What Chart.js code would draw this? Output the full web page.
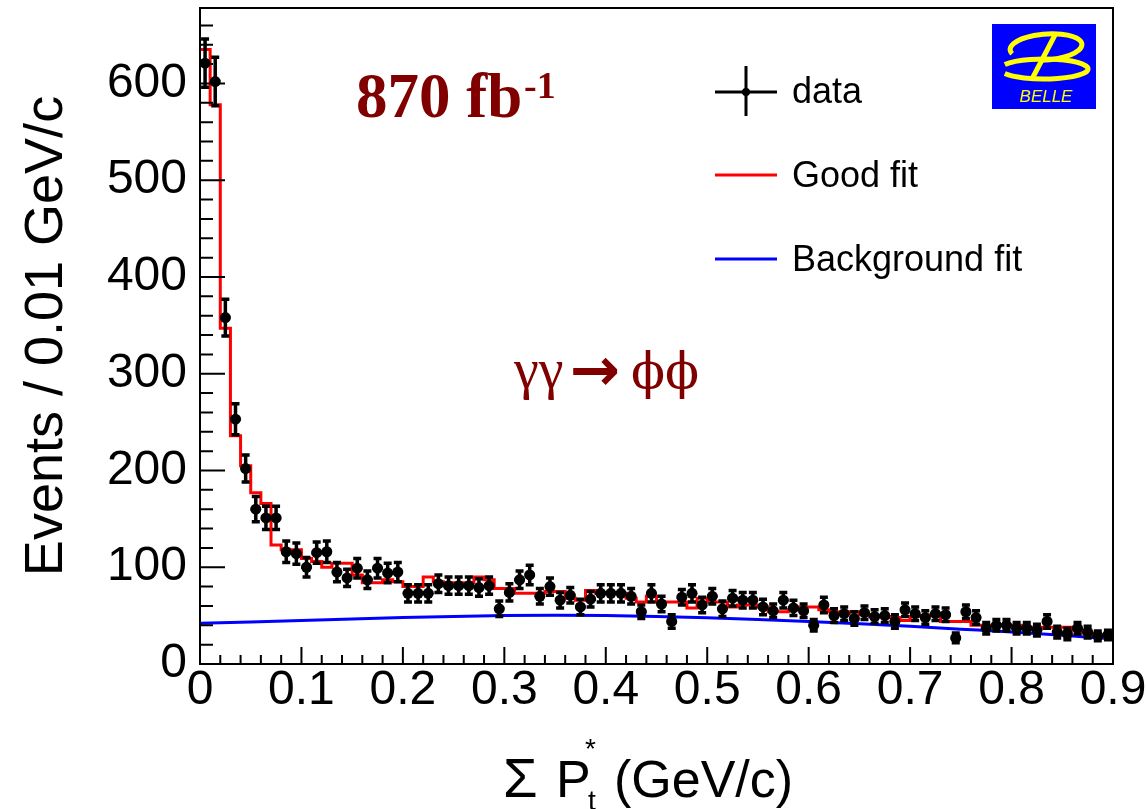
<!DOCTYPE html>
<html>
<head>
<meta charset="utf-8">
<script src="https://cdn.jsdelivr.net/npm/chart.js@4.4.1/dist/chart.umd.min.js"></script>
<style>
  html, body { margin: 0; padding: 0; background: #fff; }
  #wrap { width: 1146px; height: 809px; }
</style>
</head>
<body>
<div id="wrap"><canvas id="pt-spectrum" width="1146" height="809"></canvas></div>
<script>
// histogram bin width, GeV/c
var binWidth = 0.01;

// events per bin, bins 0.00-0.01 ... 0.89-0.90
var counts = [621, 602, 358, 253, 202, 160, 151, 151, 116, 114,
              100, 115, 116, 95, 89, 99, 87, 99, 94, 95,
              73, 73, 73, 83, 81, 81, 81, 79, 81, 57,
              74, 87, 92, 70, 80, 66, 71, 59, 67, 73,
              73, 73, 70, 54, 73, 62, 44, 69, 73, 61,
              70, 57, 68, 66, 66, 59, 55, 66, 58, 55,
              40, 61, 50, 52, 47, 53, 49, 50, 44, 56,
              52, 48, 52, 51, 27, 54, 48, 37, 40, 40,
              37, 37, 35, 44, 33, 31, 37, 33, 29, 30];

// error bar half-lengths
var countErrors = [25, 25, 19, 16, 14, 13, 12, 12, 11, 11,
                   10, 11, 11, 10, 9, 10, 9, 10, 10, 10,
                   9, 9, 9, 9, 9, 9, 9, 9, 9, 8,
                   9, 9, 10, 8, 9, 8, 8, 8, 8, 9,
                   9, 9, 8, 7, 9, 8, 7, 8, 9, 8,
                   8, 8, 8, 8, 8, 8, 7, 8, 8, 7,
                   6, 8, 7, 7, 7, 7, 7, 7, 7, 7,
                   7, 7, 7, 7, 5, 7, 7, 6, 6, 6,
                   6, 6, 6, 7, 6, 6, 6, 6, 5, 5];

// "Good fit" histogram, one value per bin
var goodFit = [635, 578, 347, 236, 205, 177, 166, 123, 118, 118,
               109, 106, 100, 104, 104, 92, 84, 84, 87, 85,
               80, 80, 90, 85, 84, 84, 84, 90, 87, 78,
               78, 73, 73, 73, 75, 75, 68, 66, 76, 73,
               73, 73, 68, 64, 70, 64, 64, 64, 58, 68,
               64, 64, 59, 61, 61, 59, 54, 54, 56, 59,
               59, 56, 54, 52, 54, 51, 49, 49, 48, 45,
               49, 50, 51, 44, 44, 44, 40, 40, 40, 40,
               40, 38, 37, 38, 38, 38, 35, 32, 30, 28];

// background fit curve
var bkgX = [0, 0.05, 0.1, 0.15, 0.2, 0.25, 0.3, 0.35, 0.4, 0.45,
            0.5, 0.55, 0.6, 0.65, 0.7, 0.75, 0.8, 0.85, 0.9];
var bkgY = [42, 43.5, 45, 46.5, 48, 49.2, 50, 50.3, 50, 49.2,
            47.8, 46, 44, 41.6, 39, 36, 33, 29.6, 26];

// tick labels
var xTicks = [0, 0.1, 0.2, 0.3, 0.4, 0.5, 0.6, 0.7, 0.8, 0.9];
var yTicks = [0, 100, 200, 300, 400, 500, 600];

var darkRed = '#800000';

// ROOT style frame with inward ticks
var frameTicks = {
  id: 'frameTicks',
  afterDraw: function (chart) {
    var ctx = chart.ctx, a = chart.chartArea;
    var xs = chart.scales.x, ys = chart.scales.y;
    ctx.save();
    ctx.strokeStyle = '#000';
    ctx.lineWidth = 2;
    ctx.strokeRect(a.left, a.top, a.right - a.left, a.bottom - a.top);
    ctx.beginPath();
    for (var k = 0; k <= 45; k++) {
      var px = xs.getPixelForValue(k * 0.02);
      var len = k % 5 === 0 ? 17 : 9;
      ctx.moveTo(px, a.bottom);
      ctx.lineTo(px, a.bottom - len);
    }
    for (var j = 0; j <= 33; j++) {
      var py = ys.getPixelForValue(j * 20);
      var l2 = j % 5 === 0 ? 25 : 13;
      ctx.moveTo(a.left, py);
      ctx.lineTo(a.left + l2, py);
    }
    ctx.stroke();
    ctx.restore();
  }
};

var errorBars = {
  id: 'errorBars',
  afterDatasetsDraw: function (chart) {
    var ctx = chart.ctx, xs = chart.scales.x, ys = chart.scales.y;
    ctx.save();
    ctx.strokeStyle = '#000';
    ctx.lineWidth = 3.5;
    ctx.beginPath();
    counts.forEach(function (n, i) {
      var xc = (i + 0.5) * binWidth;
      var px = xs.getPixelForValue(xc);
      var pl = xs.getPixelForValue(i * binWidth);
      var pr = xs.getPixelForValue((i + 1) * binWidth);
      var py = ys.getPixelForValue(n);
      var pt = ys.getPixelForValue(n + countErrors[i]);
      var pb = ys.getPixelForValue(n - countErrors[i]);
      ctx.moveTo(px, pt); ctx.lineTo(px, pb);
      ctx.moveTo(px - 4, pt); ctx.lineTo(px + 4, pt);
      ctx.moveTo(px - 4, pb); ctx.lineTo(px + 4, pb);
      ctx.moveTo(pl, py); ctx.lineTo(pr, py);
    });
    ctx.stroke();
    ctx.restore();
  }
};

// legend, labels, logo and x title
var decorations = {
  id: 'decorations',
  afterDraw: function (chart) {
    var ctx = chart.ctx;
    ctx.save();

    // legend
    ctx.lineWidth = 3;
    ctx.strokeStyle = '#000';
    ctx.beginPath();
    ctx.moveTo(715, 92); ctx.lineTo(777, 92);
    ctx.moveTo(746, 66); ctx.lineTo(746, 116);
    ctx.stroke();
    ctx.fillStyle = '#000';
    ctx.beginPath(); ctx.arc(746, 92, 4, 0, Math.PI * 2); ctx.fill();
    ctx.strokeStyle = '#ff0000';
    ctx.beginPath(); ctx.moveTo(715, 175); ctx.lineTo(777, 175); ctx.stroke();
    ctx.strokeStyle = '#0000ff';
    ctx.beginPath(); ctx.moveTo(715, 259); ctx.lineTo(777, 259); ctx.stroke();
    ctx.font = "36px 'Liberation Sans', Arial, sans-serif";
    ctx.textBaseline = 'middle';
    ctx.textAlign = 'left';
    ctx.fillText('data', 792, 93);
    ctx.fillText('Good fit', 792, 177);
    ctx.fillText('Background fit', 792, 261);

    // luminosity
    ctx.fillStyle = darkRed;
    ctx.textBaseline = 'alphabetic';
    ctx.font = "bold 63px 'Liberation Serif', 'Times New Roman', serif";
    ctx.fillText('870 fb', 356, 117);
    ctx.font = "bold 38px 'Liberation Serif', 'Times New Roman', serif";
    ctx.fillText('-1', 524, 98);

    // process
    ctx.font = "56px 'Liberation Serif', 'DejaVu Serif', serif";
    ctx.fillText('\u03b3\u03b3', 514, 388);
    ctx.font = "bold 60px 'DejaVu Sans', sans-serif";
    ctx.fillText('\u2192', 570, 390);
    ctx.font = "50px 'DejaVu Serif', 'Liberation Serif', serif";
    ctx.fillText('\u03d5\u03d5', 631, 388);

    // BELLE logo
    ctx.fillStyle = '#0000ff';
    ctx.fillRect(992, 24, 104, 85);
    ctx.strokeStyle = '#ffff00';
    ctx.lineWidth = 5;
    ctx.beginPath();
    ctx.ellipse(1046, 47, 36, 13, -0.08, Math.PI * 0.9, Math.PI * 2.55);
    ctx.stroke();
    ctx.beginPath();
    ctx.ellipse(1044, 69, 44, 10, 0, Math.PI * 1.15, Math.PI * 2.85);
    ctx.stroke();
    ctx.beginPath();
    ctx.moveTo(1056, 33); ctx.lineTo(1032, 79);
    ctx.stroke();
    ctx.fillStyle = '#ffff00';
    ctx.font = "italic 17px 'Liberation Sans', Arial, sans-serif";
    ctx.textAlign = 'center';
    ctx.fillText('BELLE', 1046, 102);

    // x axis title
    ctx.fillStyle = '#000';
    ctx.textAlign = 'left';
    ctx.font = "56px 'Liberation Sans', Arial, sans-serif";
    ctx.fillText('\u03a3', 503, 797);
    ctx.font = "52px 'Liberation Sans', Arial, sans-serif";
    ctx.fillText('P', 556, 797);
    ctx.fillText('(GeV/c)', 614, 797);
    ctx.font = "28px 'Liberation Sans', Arial, sans-serif";
    ctx.fillText('*', 585, 758);
    ctx.fillText('t', 588, 810);
    ctx.restore();
  }
};

Chart.defaults.font.family = "'Liberation Sans', Arial, sans-serif";
Chart.defaults.color = '#000';

window.addEventListener('load', function () {
  var ctx = document.getElementById('pt-spectrum').getContext('2d');

  var dataPoints = counts.map(function (n, i) {
    return { x: (i + 0.5) * binWidth, y: n };
  });
  var fitSteps = goodFit.map(function (v, i) {
    return { x: i * binWidth, y: v };
  });
  fitSteps.push({ x: goodFit.length * binWidth, y: goodFit[goodFit.length - 1] });
  var bkgPoints = bkgX.map(function (x, i) {
    return { x: x, y: bkgY[i] };
  });

  var chart = new Chart(ctx, {
    type: 'scatter',
    data: {
      datasets: [
        {
          label: 'data',
          data: dataPoints,
          pointRadius: 5.5,
          pointBackgroundColor: '#000',
          pointBorderWidth: 0,
          order: 0
        },
        {
          type: 'line',
          label: 'Good fit',
          data: fitSteps,
          stepped: true,
          borderColor: '#ff0000',
          borderWidth: 3,
          pointRadius: 0,
          fill: false,
          order: 1
        },
        {
          type: 'line',
          label: 'Background fit',
          data: bkgPoints,
          cubicInterpolationMode: 'monotone',
          borderColor: '#0000ff',
          borderWidth: 3,
          pointRadius: 0,
          fill: false,
          order: 2
        }
      ]
    },
    options: {
      responsive: false,
      animation: false,
      layout: { padding: { top: 8, right: 33, left: 0, bottom: 0 } },
      plugins: {
        legend: { display: false },
        tooltip: { enabled: false }
      },
      scales: {
        x: {
          type: 'linear',
          min: 0,
          max: 0.9,
          grid: { display: false, drawTicks: false },
          border: { display: false },
          afterBuildTicks: function (scale) {
            scale.ticks = xTicks.map(function (v) { return { value: v }; });
          },
          afterFit: function (scale) {
            scale.height = 145;
            scale.paddingLeft = 0;
            scale.paddingRight = 0;
          },
          ticks: {
            autoSkip: false,
            maxRotation: 0,
            padding: 3,
            font: { size: 48, lineHeight: 1 },
            callback: function (v) { return v === 0 ? '0' : v.toFixed(1); }
          }
        },
        y: {
          type: 'linear',
          min: 0,
          max: 678,
          grid: { display: false, drawTicks: false },
          border: { display: false },
          afterBuildTicks: function (scale) {
            scale.ticks = yTicks.map(function (v) { return { value: v }; });
          },
          afterFit: function (scale) {
            scale.width = 200;
            scale.paddingTop = 0;
            scale.paddingBottom = 0;
          },
          ticks: {
            padding: 13,
            font: { size: 48, lineHeight: 1 }
          },
          title: {
            display: true,
            text: 'Events / 0.01 GeV/c',
            font: { size: 54, lineHeight: 1 },
            padding: { top: 20, bottom: 0 }
          }
        }
      }
    },
    plugins: [errorBars, frameTicks, decorations]
  });
});
</script>
</body>
</html>
